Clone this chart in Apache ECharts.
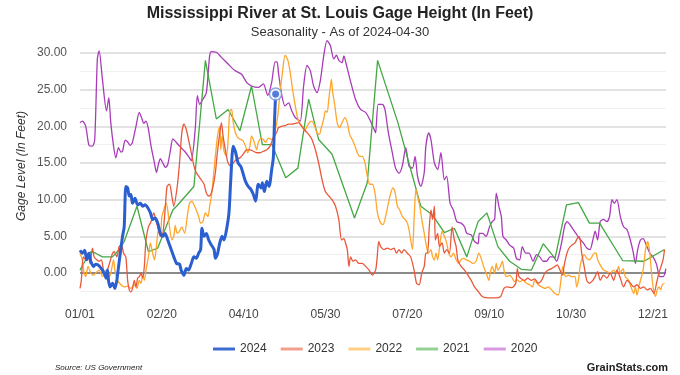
<!DOCTYPE html>
<html>
<head>
<meta charset="utf-8">
<script src="https://cdn.jsdelivr.net/npm/echarts@6/dist/echarts.min.js"></script>
<style>
  html, body { margin: 0; padding: 0; background: #fff; }
  #chart { width: 680px; height: 375px; }
</style>
</head>
<body>
<div id="chart"></div>
<script>
// 密西西比河 圣路易斯 水位 季节性
// x = day of year (0 = 01/01), y = gage height in feet
const xLabels = ['01/01', '02/20', '04/10', '05/30', '07/20', '09/10', '10/30', '12/21'];
const years = ['2024', '2023', '2022', '2021', '2020'];
const lineColors = ['#2b5fd0', '#e9583b', '#ffa62b', '#43a843', '#a83cb8'];
const legendColors = ['#3d6bd0', '#f0a08c', '#ffcf85', '#95d095', '#d898de'];

const s2024 = [[0,3.1],[1.4,2.7],[2.9,3.1],[4.1,1.8],[5.5,2.7],[6.6,1.6],[8.2,0.9],[9.6,1.2],[11.1,1.1],[12.3,0.8],[13.7,0.4],[14.7,0],[16,-0.7],[16.8,0.4],[17.4,-1.0],[18.4,-1.9],[19.9,-1.4],[21.3,-2.1],[22.5,-1.0],[23.3,0.4],[24.6,2.7],[26,5.0],[27,6.3],[28,11.8],[29.1,11.6],[30.1,10.5],[31.1,10.7],[32.1,9.5],[33.6,10.2],[35.2,9.3],[36.9,9.5],[38.3,9.1],[39.7,9.3],[41.4,8.9],[43,8.2],[44.4,7.3],[45.9,7.5],[47.5,6.8],[49.1,5.4],[50.6,5.0],[52,5.4],[53.6,4.5],[55.7,3.2],[57.3,2.2],[59,1.3],[60.8,1.2],[61.8,0.4],[63.5,-0.3],[64.9,0.6],[66.3,0.4],[68,1.3],[69.6,2.2],[71,2.0],[72.5,2.7],[73.7,3.2],[74.5,6.1],[75.8,5.0],[77.2,5.4],[78.6,4.5],[80.3,3.8],[81.9,3.2],[82.7,2.0],[83.9,2.5],[85.4,4.1],[86.8,5.0],[88,4.5],[89.5,5.9],[91,8.2],[92.1,12.7],[93.6,17.3],[95,16.5],[96.6,15.0],[98.3,14.5],[99.7,13.5],[101.1,12.5],[102.8,11.8],[104.4,11.4],[105.9,10.7],[107.3,9.8],[108.9,12.1],[110.6,11.6],[111.4,12.3],[112.6,11.1],[114.1,12.5],[115.5,11.8],[117.1,14.1],[118.1,15.7],[118.8,20.5],[119.5,24.4]];

const s2023 = [[0,-2.1],[0.8,-1.0],[2,2.2],[3.5,1.8],[4.9,2.7],[6.1,1.3],[7.6,3.4],[8.6,2.2],[10.2,1.8],[11.7,1.6],[13.1,1.8],[14.3,0.4],[15.8,-0.5],[16.8,0.4],[18.4,1.6],[19.9,2.7],[20.9,2.9],[22.5,2.2],[23.9,3.6],[25.4,3.8],[26.6,2.7],[28,2.2],[29.1,-1.0],[30.1,-2.3],[31.1,-2.6],[32.1,-2.1],[33.2,-1.0],[34.2,-1.9],[35.2,-0.7],[36.3,-0.5],[37.3,0],[38.3,-0.7],[39.3,0.9],[40.3,4.5],[41.8,6.3],[43.4,7.0],[45.1,8.2],[46.5,7.0],[47.5,6.3],[49.1,5.0],[50.6,5.4],[52,8.6],[53.2,11.8],[54.7,12.1],[56.1,10.5],[57.3,9.1],[59.4,11.8],[60.8,15.0],[62.2,19.1],[63.5,20.3],[64.9,19.6],[66.3,18.2],[68,16.4],[69.6,14.6],[71,13.7],[72.5,13.2],[74.1,12.7],[75.8,12.1],[77.2,10.9],[78.6,10.5],[79.9,10.7],[81.3,11.8],[82.7,13.7],[83.9,16.4],[85.4,19.1],[86.4,20.5],[87.4,18.7],[88.4,17.3],[89.5,15.9],[90.5,15.0],[92.1,14.6],[93.6,15.0],[95.6,15.5],[97.7,15.7],[99.7,16.2],[101.8,16.8],[103.8,16.8],[105.9,16.6],[107.9,16.4],[110,16.4],[112,16.6],[114.1,16.8],[116.1,17.3],[118.1,18.4],[120.4,19.3],[121.2,19.8],[123.3,20.0],[125.3,20.1],[127.4,20.3],[129.4,20.3],[131.5,20.4],[133.5,20.5],[135.6,20.0],[137.6,19.4],[139.7,18.9],[141.7,18.2],[143.8,16.8],[145.8,15.0],[147.9,12.7],[149.9,11.1],[152,10.5],[154,10.0],[156.1,9.1],[158.1,7.3],[159.8,4.5],[161.2,4.7],[162.2,4.1],[163.3,3.2],[164.3,0.9],[165.3,2.2],[166.8,1.6],[168.3,1.8],[170.4,1.3],[172.4,1.3],[174.5,0.9],[176.6,0.4],[178.6,-0.3],[180.6,0.4],[181.5,2.0],[182.5,4.3],[183.7,3.6],[185.7,3.2],[187.8,3.4],[189.8,3.2],[191.8,3.4],[193.3,2.7],[194.9,3.2],[196.5,2.7],[197.9,3.2],[200,2.7],[202,2.2],[204.1,0.4],[205.6,-1.4],[207.2,-1.6],[208.8,0],[210.3,0.9],[211.3,2.7],[212.3,2.7],[213.4,6.3],[214.4,8.6],[215.4,7.3],[216.5,9.1],[217.1,4.5],[218.5,5.4],[219.6,3.6],[221.2,4.1],[222.6,2.7],[224,3.2],[225.7,2.7],[227.3,6.3],[228.7,4.5],[229.8,3.6],[230.8,1.8],[232.8,0.9],[234.9,0.4],[237,-0.3],[239,-1.0],[241,-1.9],[243.2,-2.5],[245.7,-3.2],[249.8,-3.4],[253.9,-3.4],[257,-3.2],[259,-2.1],[261,-1.9],[264,-2.0],[266.2,-1.4],[267.2,0.6],[268.2,-0.5],[271.7,-1.0],[273.5,-0.7],[275.8,-1.0],[277.8,-0.8],[279.9,-1.4],[282,-1.0],[284,0],[286.1,0.4],[288.1,0.6],[290.2,0.9],[291.6,1.1],[293.2,0.4],[294.9,-0.3],[295.7,0.9],[296.9,2.2],[298.3,3.2],[300.4,3.8],[302.4,4.1],[304,4.8],[305.1,5.0],[306.5,2.7],[308,0.9],[309.6,-1.0],[311.2,-1.4],[313.3,-1.0],[314.7,-0.5],[316.2,0.2],[317.8,-1.0],[319.8,-0.3],[321.9,-0.7],[323.9,0],[326,-1.0],[328,0.4],[330.1,-0.7],[332.1,-1.9],[334.2,-1.0],[336.2,-1.4],[338.3,-1.9],[340.3,-1.6],[342.4,-2.1],[344.4,-1.9],[346.5,-2.3],[348.5,-2.1],[350.6,-2.8],[352.2,-1.4],[353.7,0],[355,0.9],[356.2,1.8],[357.1,3.2]];

const s2022 = [[0,2.7],[1.4,1.8],[2.5,0],[3.5,-0.5],[4.9,0.9],[6.6,0],[8.2,-0.3],[9.6,0],[11.7,0.4],[13.7,-0.5],[15.8,0.4],[17.2,-0.7],[18.8,0],[20.5,1.8],[21.3,0.4],[22.9,-1.0],[25,-1.6],[27,-1.9],[29.1,-1.8],[31.1,-2.1],[33.2,-1.6],[34.8,-2.1],[36.2,-1.0],[37.3,-1.4],[38.3,-0.3],[39.3,-1.0],[40.3,0.4],[41.8,2.2],[43,4.1],[44.4,2.7],[45.5,1.8],[46.5,3.2],[47.9,5.9],[49.1,5.0],[50,7.7],[51.2,8.6],[52.6,9.5],[53.6,8.6],[54.7,6.3],[56.1,4.5],[57.3,5.0],[58.2,6.5],[59.4,5.4],[60.8,5.7],[62.2,6.3],[63.9,5.4],[65.5,7.7],[66.9,9.5],[68.4,9.8],[69.6,9.3],[71,8.6],[72.5,7.7],[73.7,6.8],[75.1,7.0],[76.6,8.2],[78.2,7.7],[79.2,9.1],[80.3,10.5],[81.3,12.7],[82.3,15.0],[83.3,17.3],[84.3,19.1],[85.4,20.0],[86,16.8],[86.8,18.7],[88,16.6],[89.5,15.9],[90.5,18.2],[91.5,22.1],[92.6,22.3],[93.6,20.5],[95,19.1],[96.6,18.4],[98.3,18.2],[99.7,18.0],[101.1,17.3],[102.4,16.4],[103.8,17.3],[104.8,18.7],[106.5,17.8],[107.9,16.8],[108.9,17.8],[110.6,18.4],[112,18.2],[113.4,17.8],[115.1,18.4],[117.1,18.2],[119.2,19.4],[120.8,21.4],[122.2,24.6],[123.7,27.4],[125.3,29.7],[127,29.0],[128.4,27.4],[129.8,25.1],[131.5,22.8],[133.1,21.0],[134.5,20.3],[136,19.8],[137.2,19.4],[138.7,20.0],[140.1,20.5],[141.7,20.7],[143.4,20.0],[144.8,19.1],[146.2,18.9],[147.4,19.8],[148.9,21.0],[149.9,22.1],[151,21.9],[152,23.7],[153,25.5],[153.6,26.4],[154.4,24.6],[155.7,22.8],[157.1,20.5],[158.5,19.8],[160.1,20.5],[161.8,21.2],[163.3,20.5],[164.7,18.9],[166.3,18.2],[168,17.3],[169.4,16.4],[170.8,15.9],[172.5,15.9],[174.1,15.0],[175.5,13.2],[177,12.1],[178.6,12.1],[180.2,10.9],[181.5,8.5],[182.2,7.7],[183.7,6.8],[185.1,6.6],[186.7,7.7],[188.4,9.5],[189.8,10.9],[191.2,11.6],[192.4,11.1],[193.9,9.1],[195.3,8.6],[196.9,7.7],[198.6,7.3],[200,6.8],[201,5.9],[202,4.5],[203.1,3.2],[204.1,7.3],[205.2,11.4],[206.2,10.5],[207.6,9.1],[208.8,7.3],[210.3,5.4],[211.7,3.6],[212.9,2.7],[214.4,3.2],[215.4,2.2],[216.5,1.8],[217.5,2.7],[218.5,1.8],[220,4.1],[221.2,5.7],[222.6,5.0],[224,4.1],[225.3,2.7],[226.7,2.2],[228.1,2.7],[229.8,1.8],[231.4,1.3],[232.8,1.8],[234.3,2.0],[235.9,1.8],[238,1.6],[240,1.3],[242,1.6],[243.6,2.7],[245.1,2.0],[246.5,0.9],[248.1,0],[249.8,-1.0],[250.6,0],[251.8,0.9],[253.3,0],[254.3,1.3],[255.3,0.4],[256.8,0.9],[258,1.6],[259.4,0],[260.8,-0.5],[262.5,-0.3],[264.1,-0.7],[265.5,-1.2],[266.9,-0.9],[268.6,-1.2],[270.6,-1.0],[272.7,-1.4],[274.7,-1.6],[276.4,-1.9],[277.8,-1.0],[279.9,-1.6],[282,-1.9],[284,-2.1],[286.1,-1.9],[288.1,-2.3],[290.2,-2.8],[292.2,-3.0],[293.6,-1.4],[294.9,0.9],[295.7,0],[296.9,-0.5],[298.3,-0.3],[300.4,-0.5],[302.4,-0.5],[303.4,-1.9],[304.5,-1.0],[305.5,0.9],[306.5,1.8],[308,2.5],[309.6,2.0],[311.2,1.8],[312.7,2.2],[314.1,2.7],[315.3,2.7],[316.2,1.8],[317.8,1.1],[319.8,0.4],[321.9,0.2],[323.9,0],[326,0.4],[327.6,0],[329,0.9],[330.1,0],[331.7,0.6],[333.1,-0.5],[335.2,-1.0],[336.6,-1.9],[338.3,-2.8],[339.3,-1.9],[340.3,-3.0],[341.4,-1.9],[342.4,-1.0],[344,0.4],[345.5,3.2],[346.9,4.3],[348.1,2.7],[349,0.4],[350.1,-1.9],[351.6,-3.2],[352.6,-2.3],[353.7,-1.9],[354.7,-2.3],[355.7,-1.6],[357.1,-1.4]];

const s2021 = [[0,0.4],[3.5,1.8],[6.6,2.9],[9.6,2.7],[13.7,2.2],[19.9,2.2],[24,3.2],[27,4.3],[34.8,9.1],[41.8,2.9],[47.5,3.4],[52.6,6.3],[56.7,8.6],[59,9.1],[69.6,11.8],[76.6,29.0],[83.3,21.0],[90.5,22.3],[97.7,19.4],[104.8,25.5],[111.4,17.5],[117.5,17.5],[119.5,16.3],[125.7,13.0],[133.1,14.3],[139.7,23.7],[145.8,18.2],[154,16.2],[167.7,7.5],[175.5,12.3],[181.8,29.0],[194.2,20.5],[208.2,9.1],[215.4,7.9],[222.6,5.5],[228.7,6.1],[236.3,2.2],[243.2,7.0],[244.5,7.3],[248.6,8.2],[255.3,3.6],[262.5,1.6],[269.6,0.5],[275.8,0.4],[283,4.0],[290.2,2.0],[297.2,9.3],[304.5,9.6],[311.2,6.8],[317.4,6.8],[331.5,1.7],[344.5,1.6],[357.1,3.2]];

const s2020 = [[0,20.5],[1.4,20.7],[3.5,20.0],[5.5,17.4],[7.6,17.3],[9,18.2],[10.6,29.2],[11.7,30.3],[13.7,26.4],[16.2,22.1],[17.6,23.9],[18.8,20.5],[20.5,17.3],[21.9,15.7],[23.5,17.1],[25,16.5],[26,16.6],[27.6,18.1],[29,17.9],[30.7,17.4],[32,17.8],[34.2,20.0],[36.2,21.9],[37.9,21.0],[38.9,20.4],[40.3,20.7],[41.8,19.6],[43.4,17.3],[45.5,15.0],[46.7,13.7],[47.9,14.8],[49.1,15.6],[50.6,15.0],[52.2,14.4],[53.6,14.8],[55.3,16.8],[56.7,18.3],[58.9,17.8],[60.8,17.3],[63.9,16.6],[66.9,15.7],[68,15.3],[70.4,19.6],[71.7,24.2],[73.1,23.0],[75.1,23.7],[77.2,24.6],[79.2,29.6],[80.3,30.2],[83.3,30.1],[86.4,29.4],[90.5,28.5],[94.6,27.6],[98.7,27.1],[101.8,26.0],[104.8,25.5],[109,25.3],[112,25.8],[114.7,24.2],[117.1,26.0],[119.2,28.8],[120.4,28.8],[121.2,27.4],[123.3,24.2],[125.3,22.8],[127.4,23.2],[129.4,22.1],[131.5,21.2],[134.5,20.7],[136.6,25.5],[138.7,28.3],[140.7,27.6],[142.7,25.5],[144.8,24.6],[146.8,26.2],[148.9,29.6],[150.9,31.7],[153,31.0],[155,29.2],[156.7,29.7],[158.1,29.0],[160.1,28.7],[161.2,29.6],[162.6,28.5],[165.2,26.2],[168.3,23.7],[171.4,22.3],[174.5,21.9],[177.5,20.7],[180,19.4],[180.6,19.1],[182.2,23.0],[184.7,23.0],[186.3,22.3],[188.4,19.1],[190.8,16.4],[192.8,14.3],[194.9,13.6],[196.9,14.6],[199,17.1],[201,14.6],[203.1,14.3],[204.7,15.9],[206.2,13.2],[208.2,11.8],[210.3,13.7],[211.3,17.3],[213,19.1],[214.4,18.2],[216.5,15.0],[218.5,14.1],[220.5,16.4],[222.6,12.7],[224,13.2],[226.1,9.5],[228.1,8.6],[230.2,7.0],[232.8,6.8],[234.9,6.3],[236.3,5.4],[239,5.2],[241,4.3],[243.2,4.0],[244,5.4],[246,5.4],[248.1,5.0],[250.2,6.3],[251.8,7.0],[253.3,7.3],[254.3,10.9],[255.9,9.1],[257.4,7.7],[258.4,5.0],[260.4,4.5],[262.5,3.8],[264.9,3.4],[266.6,2.0],[268.6,1.8],[270.2,3.6],[272.3,2.7],[274.3,2.7],[276.8,1.6],[278.9,2.5],[280.9,2.2],[283,1.6],[285,1.6],[287.1,2.2],[289.1,2.2],[291.2,1.6],[292.8,2.7],[294.2,4.1],[296.3,6.6],[297.7,7.0],[299.3,6.6],[301.4,5.9],[303,5.4],[305.1,4.7],[307.5,4.1],[309.6,3.4],[311.6,3.2],[313.3,4.5],[314.7,5.7],[316.2,4.5],[317.8,7.0],[319.8,7.3],[321.9,7.0],[323.5,7.7],[325,10.0],[326.4,9.5],[328,10.0],[330.1,7.7],[332.1,6.3],[334.2,5.9],[336.2,4.5],[337.9,2.9],[339.3,1.3],[340.7,3.2],[342.4,4.5],[344,4.7],[346,3.8],[348.1,2.7],[350.1,2.2],[352.2,1.2],[354.2,-0.5],[356.3,-0.5],[357.9,0.6]];

const seriesData = [s2024, s2023, s2022, s2021, s2020];
const lastPoint = s2024[s2024.length - 1];

const chart = echarts.init(document.getElementById('chart'), null, { renderer: 'canvas' });

const yAxisBase = {
    type: 'value',
    min: -3.75,
    max: 30,
    interval: 1.25,
    axisLine: { show: false },
    axisTick: { show: false }
};

const lineSeries = years.map((name, i) => ({
    name: name,
    type: 'line',
    data: seriesData[i],
    showSymbol: false,
    smooth: i === 3 ? false : 0.25,
    clip: false,
    z: 10 - i,
    lineStyle: { color: lineColors[i], width: i === 0 ? 3 : 1.3 },
    itemStyle: { color: lineColors[i] }
}));

const option = {
    animation: false,
    title: {
        text: 'Mississippi River at St. Louis Gage Height (In Feet)',
        subtext: 'Seasonality - As of 2024-04-30',
        left: 'center',
        top: 1,
        itemGap: 4,
        textStyle: { fontFamily: 'Liberation Sans', fontSize: 16, fontWeight: 'bold', color: '#222' },
        subtextStyle: { fontFamily: 'Liberation Sans', fontSize: 13, color: '#333' }
    },
    legend: {
        bottom: 15,
        left: 208,
        icon: 'rect',
        itemWidth: 22,
        itemHeight: 3,
        itemGap: 14,
        textStyle: { fontFamily: 'Liberation Sans', fontSize: 12, color: '#333' },
        data: years.map((name, i) => ({ name: name, itemStyle: { color: legendColors[i] } }))
    },
    grid: { left: 80, right: 14, top: 53, bottom: 74.5 },
    xAxis: {
        type: 'value',
        min: 0,
        max: 358,
        interval: 50,
        axisLine: { show: false },
        axisTick: { show: false },
        splitLine: { show: false },
        axisLabel: {
            margin: 8,
            fontFamily: 'Liberation Sans',
            fontSize: 12,
            color: '#444',
            formatter: v => xLabels[v / 50] || ''
        }
    },
    yAxis: [
        Object.assign({}, yAxisBase, {
            axisLabel: {
                margin: 13,
                fontFamily: 'Liberation Sans',
                fontSize: 12,
                color: '#555',
                formatter: v => (Math.round(v * 100) % 500 === 0 && v >= 0) ? v.toFixed(2) : ''
            },
            splitLine: { lineStyle: { color: ['transparent', 'transparent', 'transparent', '#e2e2e2'], width: 2 } }
        }),
        Object.assign({}, yAxisBase, {
            axisLabel: { show: false },
            splitLine: { lineStyle: { color: ['transparent', '#f0f0f0', 'transparent', 'transparent'], width: 1 } }
        })
    ],
    series: lineSeries.concat([
        {
            name: 'zero',
            type: 'line',
            data: [],
            z: 1,
            markLine: {
                silent: true,
                symbol: 'none',
                label: { show: false },
                lineStyle: { color: '#8a8a8a', width: 2, type: 'solid' },
                data: [{ yAxis: 0 }]
            }
        },
        {
            name: 'halo',
            type: 'scatter',
            data: [lastPoint],
            symbolSize: 12,
            z: 20,
            itemStyle: { color: '#ffffff', borderColor: '#6f92dc', borderWidth: 1.5 }
        },
        {
            name: 'last',
            type: 'scatter',
            data: [lastPoint],
            symbolSize: 7,
            z: 21,
            itemStyle: { color: lineColors[0] }
        }
    ]),
    graphic: [
        {
            type: 'text',
            x: 22,
            y: 166,
            rotation: Math.PI / 2,
            style: {
                text: 'Gage Level (In Feet)',
                font: 'italic 12px "Liberation Sans"',
                fill: '#333',
                align: 'center',
                verticalAlign: 'middle'
            }
        },
        {
            type: 'text',
            left: 55,
            top: 364,
            style: { text: 'Source: US Government', font: 'italic 8px "Liberation Sans"', fill: '#222' }
        },
        {
            type: 'text',
            right: 12,
            top: 362,
            style: { text: 'GrainStats.com', font: 'bold 11px "Liberation Sans"', fill: '#222' }
        }
    ]
};

chart.setOption(option);
</script>
</body>
</html>
